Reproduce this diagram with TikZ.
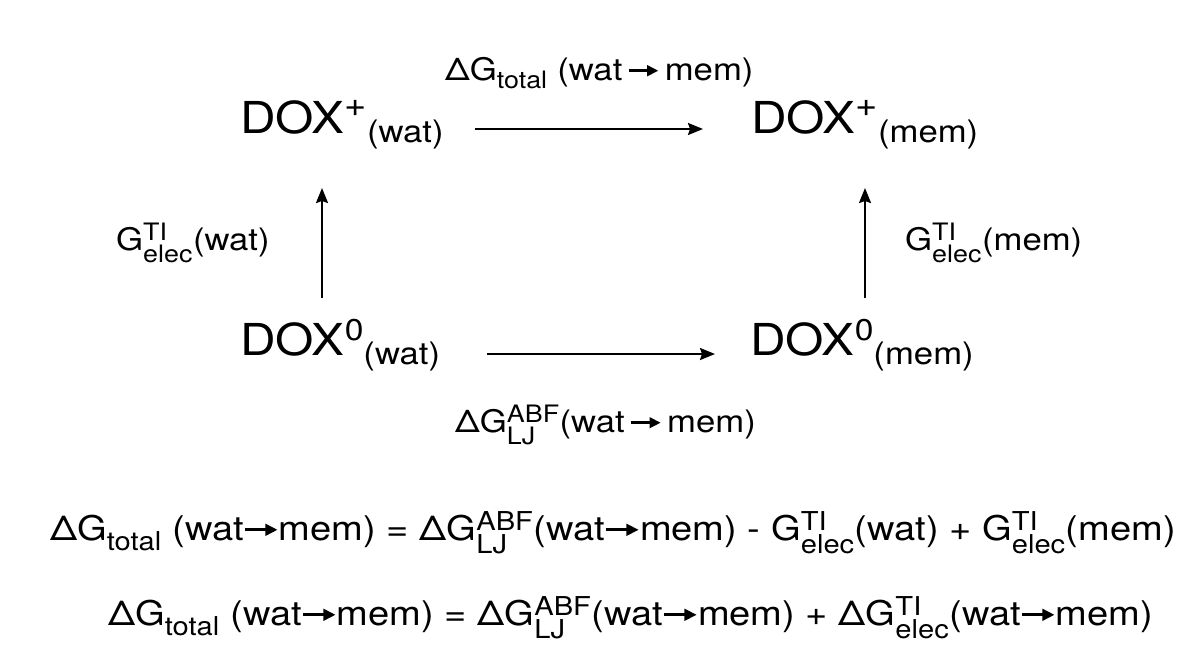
\documentclass[tikz,border=0pt]{standalone}
\usepackage{amsmath}
\usepackage{fontspec}
\setmainfont{TeX Gyre Heros}[FakeStretch=1.12]
\usetikzlibrary{arrows.meta}
\DeclareMathSizes{34}{34}{26}{19}
\DeclareMathSizes{31}{31}{24}{17}
\newcommand\rarr{\tikz[baseline]{\draw[line width=0.085em,-{Triangle[length=0.36em,width=0.34em]}] (0,0.3em) -- (0.95em,0.3em);}}
\newcommand\tx[1]{\text{#1}}
\newcommand\doxp[1]{DOX\raisebox{17pt}{\fontsize{34}{34}\selectfont +}\raisebox{-9pt}{\fontsize{31}{31}\selectfont (#1)}}
\newcommand\doxz[1]{DOX\raisebox{15pt}{\fontsize{30}{30}\selectfont 0}\raisebox{-9pt}{\fontsize{31}{31}\selectfont (#1)}}
\tikzset{
  lab/.style={inner sep=0pt, anchor=base west, font=\fontsize{31}{36}\selectfont},
  big/.style={inner sep=0pt, anchor=base west, font=\fontsize{44}{50}\selectfont},
  eq/.style={inner sep=0pt, anchor=base west, font=\fontsize{34}{40}\selectfont},
  conn/.style={line width=2pt, -{Stealth[length=15pt,width=12pt,inset=2pt]}}
}
\begin{document}
\begin{tikzpicture}[x=1pt,y=-1pt]
\useasboundingbox (0,0) rectangle (1191,651);
\fill[white] (0,0) rectangle (1191,651);
% main species
\node[big] (pw) at (240,133) {\doxp{wat}};
\node[big] (pm) at (751,133) {\doxp{mem}};
\node[big] (zw) at (240,355) {\doxz{wat}};
\node[big] (zm) at (750,355) {\doxz{mem}};
% labels
\node[lab] (ltop) at (445,80) {ΔG$_{\tx{total}}$ (wat\,\rarr\,mem)};
\node[lab] (lleft) at (116,250) {G$^{\tx{TI}}_{\tx{elec}}$(wat)};
\node[lab] (lright) at (905,250) {G$^{\tx{TI}}_{\tx{elec}}$(mem)};
\node[lab] (lbot) at (455,432) {ΔG$^{\tx{ABF}}_{\tx{LJ}}$(wat\,\rarr\,mem)};
% arrow end points
\coordinate (t1) at (475,129); \coordinate (t2) at (703,129);
\coordinate (b1) at (487,354); \coordinate (b2) at (715,354);
\coordinate (l1) at (322,298); \coordinate (l2) at (322,188);
\coordinate (r1) at (865,298); \coordinate (r2) at (865,188);
\draw[conn] (t1) -- (t2);
\draw[conn] (b1) -- (b2);
\draw[conn] (l1) -- (l2);
\draw[conn] (r1) -- (r2);
% equations
\node[eq] (eq1) at (50,540) {ΔG$_{\tx{total}}$ (wat\rarr mem) = ΔG$^{\tx{ABF}}_{\tx{LJ}}$(wat\rarr mem) - G$^{\tx{TI}}_{\tx{elec}}$(wat) + G$^{\tx{TI}}_{\tx{elec}}$(mem)};
\node[eq] (eq2) at (108,625) {ΔG$_{\tx{total}}$ (wat\rarr mem) = ΔG$^{\tx{ABF}}_{\tx{LJ}}$(wat\rarr mem) + ΔG$^{\tx{TI}}_{\tx{elec}}$(wat\rarr mem)};
\end{tikzpicture}
\end{document}
